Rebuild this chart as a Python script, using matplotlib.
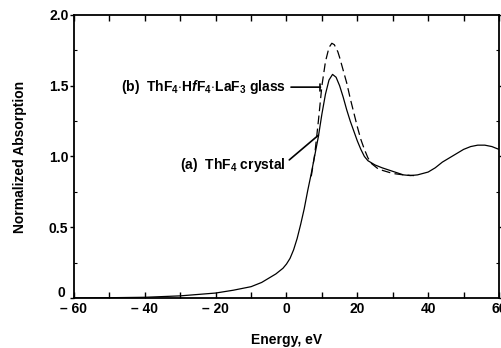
import matplotlib
matplotlib.use("Agg")
import matplotlib.pyplot as plt
import matplotlib.transforms as mtransforms
from matplotlib.ticker import MultipleLocator

plt.rcParams["font.family"] = ["Liberation Sans", "DejaVu Sans"]
plt.rcParams["font.weight"] = "bold"
plt.rcParams["mathtext.fontset"] = "custom"
plt.rcParams["mathtext.rm"] = "Liberation Sans:bold"
plt.rcParams["mathtext.bf"] = "Liberation Sans:bold"
plt.rcParams["mathtext.it"] = "Liberation Sans:bold:italic"
plt.rcParams["mathtext.default"] = "bf"

# (a) ThF4 crystal
crystal_e = [-60, -50, -40, -30, -25, -20, -15, -10, -7, -5, -3, -1, 0, 1, 2, 3, 4, 5, 6, 7,
             8, 9, 10, 11, 12, 13, 14, 15, 16, 17, 18, 19, 20, 21, 22, 23, 25, 27, 30, 33,
             35, 37, 40, 42, 44, 46, 48, 50, 52, 54, 56, 58, 60]
crystal_a = [0.0, 0.002, 0.005, 0.015, 0.025, 0.035, 0.055, 0.08, 0.11, 0.14, 0.17, 0.21, 0.24,
             0.28, 0.34, 0.42, 0.52, 0.63, 0.76, 0.88, 1.01, 1.14, 1.30, 1.44, 1.54, 1.58,
             1.56, 1.50, 1.42, 1.33, 1.25, 1.18, 1.11, 1.05, 1.00, 0.97, 0.94, 0.92, 0.895,
             0.87, 0.865, 0.87, 0.89, 0.92, 0.96, 0.99, 1.02, 1.05, 1.07, 1.08, 1.08, 1.07, 1.05]

# (b) ThF4-HfF4-LaF3 glass (only where it departs from the crystal)
glass_e = [7, 8, 9, 10, 11, 12, 12.8, 13.5, 14.5, 15, 16, 17, 18, 19, 20, 21, 22, 23, 24, 26,
           28, 30, 33, 36]
glass_a = [0.86, 1.02, 1.25, 1.50, 1.67, 1.77, 1.80, 1.79, 1.74, 1.70, 1.61, 1.52, 1.41, 1.31,
           1.21, 1.12, 1.05, 0.99, 0.95, 0.91, 0.895, 0.88, 0.87, 0.865]

xticks = [-60, -40, -20, 0, 20, 40, 60]
xlabels = ["\u2013 60", "\u2013 40", "\u2013 20", "0", "20", "40", "60"]
yticks = [0, 0.5, 1.0, 1.5, 2.0]
ylabels = ["0", "0.5", "1.0", "1.5", "2.0"]

fig = plt.figure(figsize=(5.02, 3.48), dpi=100)
ax = fig.add_axes([0.1474, 0.1437, 0.8466, 0.8133])

ax.plot(crystal_e, crystal_a, color="black", linewidth=0.9)
ax.plot(glass_e, glass_a, color="black", linewidth=0.9, dashes=(7, 3.5))

ax.set_xlim(-60, 60)
ax.set_ylim(0, 2.0)
ax.set_xticks(xticks)
ax.set_xticklabels(xlabels)
ax.set_yticks(yticks)
ax.set_yticklabels(ylabels)
ax.xaxis.set_minor_locator(MultipleLocator(10))
ax.yaxis.set_minor_locator(MultipleLocator(0.25))

ax.tick_params(axis="x", which="both", direction="in", top=True, length=4, width=1,
               labelsize=10, pad=3)
ax.tick_params(axis="y", which="major", direction="out", length=3, width=1,
               labelsize=10, pad=1)
ax.tick_params(axis="y", which="minor", direction="in", right=True, length=2, width=0.8)
ax.tick_params(axis="y", which="major", right=True)
for s in ax.spines.values():
    s.set_linewidth(1.3)

# the "0" on the y axis sits a little above the corner, clear of "- 60"
zero_lab = ax.get_yticklabels()[0]
zero_lab.set_transform(zero_lab.get_transform() +
                       mtransforms.ScaledTranslation(-2 / 72, 5 / 72, fig.dpi_scale_trans))

ax.set_xlabel("Energy, eV", fontsize=10, fontweight="bold", labelpad=12)
ax.set_ylabel("Normalized Absorption", fontsize=10, fontweight="bold", labelpad=16)

ax.annotate(r"(b)  ThF$_4$$\cdot$H$\mathit{f}$F$_4$$\cdot$LaF$_3$ glass",
            xy=(9.6, 1.49), xytext=(-0.3, 1.49), ha="right", va="center",
            fontsize=10, fontweight="bold",
            arrowprops=dict(arrowstyle="-[, widthB=0.25, lengthB=0", color="black",
                            linewidth=1.2, shrinkA=2, shrinkB=0, relpos=(1, 0.5)))
ax.annotate(r"(a)  ThF$_4$ crystal",
            xy=(9.0, 1.15), xytext=(-0.3, 0.94), ha="right", va="center",
            fontsize=10, fontweight="bold",
            arrowprops=dict(arrowstyle="-", color="black", linewidth=1.2,
                            shrinkA=1, shrinkB=0, relpos=(1, 0.6)))

fig.savefig("out.png", dpi=100)
